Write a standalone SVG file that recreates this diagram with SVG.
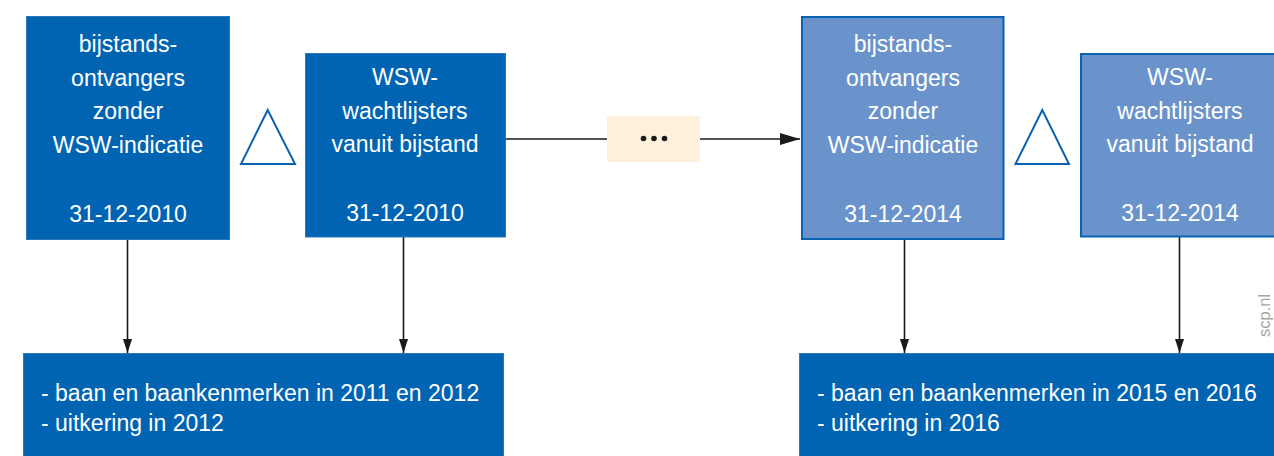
<svg xmlns="http://www.w3.org/2000/svg" width="1274" height="456" viewBox="0 0 1274 456">
<style>
.dark{fill:#0064b3;stroke:#2a78bd;stroke-width:1}
.light{fill:#6a93cb;stroke:#0a63b0;stroke-width:2}
.tri{fill:#fff;stroke:#0a63b0;stroke-width:2;stroke-linejoin:miter}
.t{font-family:"Liberation Sans",Arial,sans-serif;font-size:23px;fill:#fff;text-anchor:middle}
.tl{font-family:"Liberation Sans",Arial,sans-serif;font-size:23px;fill:#fff}
.c{stroke:#1a1a1a;stroke-width:1.6;fill:none}
</style>
<defs>
<marker id="ah" markerUnits="userSpaceOnUse" markerWidth="22" markerHeight="12" refX="20" refY="6" orient="auto">
<path d="M0,0 L20,6 L0,12 Z" fill="#1a1a1a"/>
</marker>
<marker id="av" markerUnits="userSpaceOnUse" markerWidth="16" markerHeight="10" refX="14" refY="4.5" orient="auto">
<path d="M0,0 L14,4.5 L0,9 Z" fill="#1a1a1a"/>
</marker>
</defs>
<g id="connectors">
<line class="c" x1="506" y1="139" x2="800" y2="139" marker-end="url(#ah)"/>
<line class="c" x1="127.5" y1="240" x2="127.5" y2="353" marker-end="url(#av)"/>
<line class="c" x1="403.5" y1="237" x2="403.5" y2="353" marker-end="url(#av)"/>
<line class="c" x1="904.5" y1="240" x2="904.5" y2="353" marker-end="url(#av)"/>
<line class="c" x1="1179.5" y1="237" x2="1179.5" y2="353" marker-end="url(#av)"/>
</g>
<g id="box2010a">
<rect class="dark" x="26.5" y="16.5" width="203" height="223"/>
<text class="t" x="128" y="52">bijstands-</text>
<text class="t" x="128" y="85.5">ontvangers</text>
<text class="t" x="128" y="119">zonder</text>
<text class="t" x="128" y="152.5">WSW-indicatie</text>
<text class="t" x="128" y="222">31-12-2010</text>
</g>
<g id="tri2010">
<polygon class="tri" points="267.7,110 241,164 295,164"/>
</g>
<g id="box2010b">
<rect class="dark" x="305.5" y="53.5" width="200" height="183.5"/>
<text class="t" x="405" y="85">WSW-</text>
<text class="t" x="405" y="119">wachtlijsters</text>
<text class="t" x="405" y="152">vanuit bijstand</text>
<text class="t" x="405" y="221">31-12-2010</text>
</g>
<g id="dots">
<rect x="607" y="116" width="93" height="46" fill="#fdf1dc"/>
<circle cx="643.5" cy="138.5" r="2.8" fill="#1a1a1a"/>
<circle cx="654" cy="138.5" r="2.8" fill="#1a1a1a"/>
<circle cx="664.5" cy="138.5" r="2.8" fill="#1a1a1a"/>
</g>
<g id="box2014a">
<rect class="light" x="802" y="17" width="201.5" height="222"/>
<text class="t" x="903" y="52">bijstands-</text>
<text class="t" x="903" y="85.5">ontvangers</text>
<text class="t" x="903" y="119">zonder</text>
<text class="t" x="903" y="152.5">WSW-indicatie</text>
<text class="t" x="903" y="222">31-12-2014</text>
</g>
<g id="tri2014">
<polygon class="tri" points="1042.3,110 1015.5,164 1069,164"/>
</g>
<g id="box2014b">
<rect class="light" x="1081" y="54" width="200" height="182.5"/>
<text class="t" x="1180" y="85">WSW-</text>
<text class="t" x="1180" y="119">wachtlijsters</text>
<text class="t" x="1180" y="152">vanuit bijstand</text>
<text class="t" x="1180" y="221">31-12-2014</text>
</g>
<g id="out2012">
<rect class="dark" x="23.5" y="353.5" width="480" height="110"/>
<text class="tl" x="41" y="400.5">- baan en baankenmerken in 2011 en 2012</text>
<text class="tl" x="41" y="430.5">- uitkering in 2012</text>
</g>
<g id="out2016">
<rect class="dark" x="799.5" y="353.5" width="490" height="110"/>
<text class="tl" x="817" y="400.5">- baan en baankenmerken in 2015 en 2016</text>
<text class="tl" x="817" y="430.5">- uitkering in 2016</text>
</g>
<text x="1270" y="337" transform="rotate(-90 1270 337)" font-family="'Liberation Sans',Arial,sans-serif" font-size="16.5" fill="#a6a6a6">scp.nl</text>
</svg>
